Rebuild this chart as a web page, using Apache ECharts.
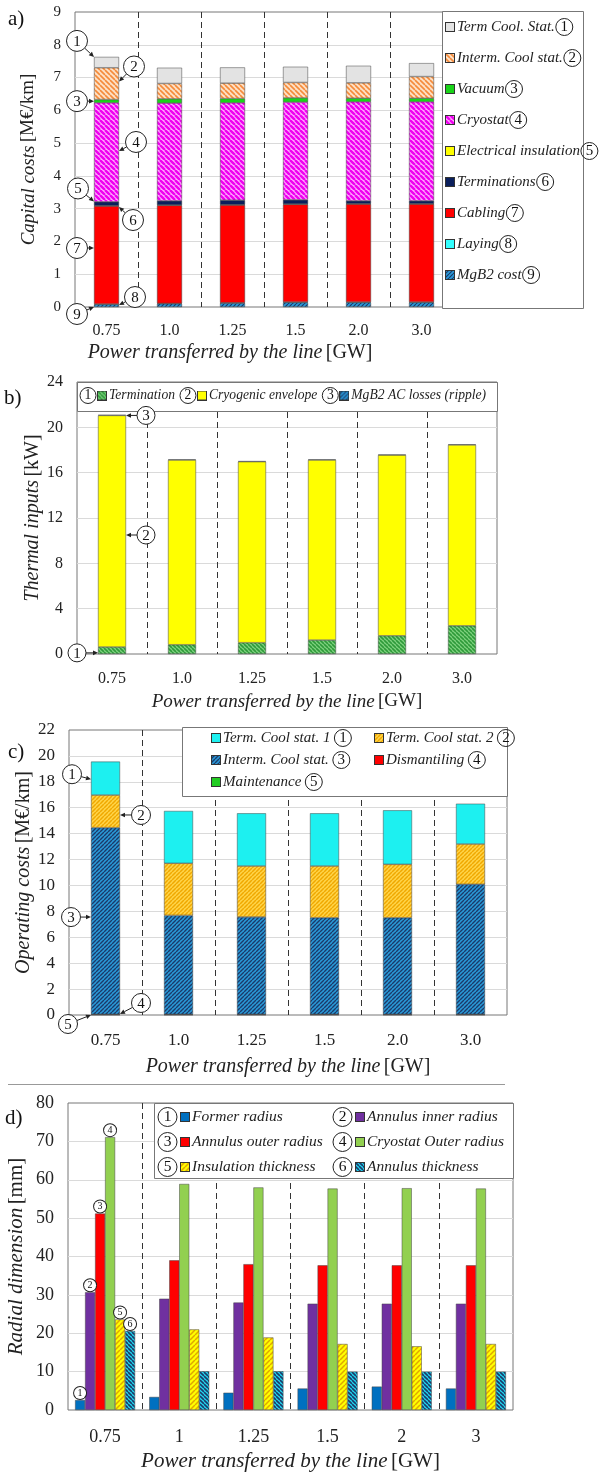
<!DOCTYPE html>
<html><head><meta charset="utf-8">
<script src="https://cdn.jsdelivr.net/npm/echarts@6/dist/echarts.min.js"></script>
<style>html,body{margin:0;padding:0;background:#fff}#c{width:603px;height:1476px}</style>
</head><body><div id="c"></div>
<script>
// ---------- DATA ----------
const catsABC = ['0.75','1.0','1.25','1.5','2.0','3.0'];
const catsD = ['0.75','1','1.25','1.5','2','3'];

// a) Capital costs [M€/km]
const aMgB2 = [0.08,0.10,0.12,0.14,0.14,0.14];
const aLaying = [0.01,0.01,0.01,0.01,0.01,0.01];
const aCabling = [2.99,2.99,2.98,2.98,2.99,2.99];
const aInsulation = [0.01,0.01,0.01,0.01,0.01,0.01];
const aTerminations = [0.12,0.13,0.14,0.13,0.09,0.09];
const aCryostat = [3.02,2.98,2.97,2.98,3.02,3.02];
const aVacuum = [0.10,0.13,0.13,0.13,0.11,0.11];
const aIntermCool = [0.97,0.47,0.47,0.47,0.47,0.66];
const aTermCool = [0.33,0.48,0.48,0.48,0.52,0.41];

// b) Thermal inputs [kW]
const bTermination = [0.62,0.82,1.00,1.23,1.61,2.49];
const bCryogenic = [20.43,16.30,15.97,15.89,15.94,15.96];
const bACLosses = [0.05,0.05,0.05,0.05,0.05,0.05];

// c) Operating costs [M€/km]
const cMaintenance = [0.02,0.02,0.02,0.02,0.02,0.02];
const cDismantling = [0.03,0.03,0.03,0.03,0.03,0.03];
const cIntermCool = [14.41,7.64,7.52,7.46,7.46,10.04];
const cTermCool2 = [2.52,4.02,3.93,3.99,4.12,3.11];
const cTermCool1 = [2.58,4.04,4.07,4.07,4.17,3.11];

// d) Radial dimension [mm]
const dFormer = [2.6,3.4,4.5,5.6,6.1,5.6];
const dInner = [30.7,29.0,28.0,27.7,27.7,27.7];
const dOuter = [51.2,39.0,38.0,37.7,37.7,37.7];
const dCryostat = [71.1,58.9,58.0,57.7,57.8,57.7];
const dInsulation = [23.6,21.0,18.9,17.2,16.6,17.2];
const dThickness = [20.6,10.1,10.1,10.0,10.0,10.0];

// annotation callouts: [category index, value pointed at, bar edge (-1 left / +1 right), circle dx, circle dy, number]
const annotA = [[0,7.63,-1,-17,-16,1],[0,6.88,1,15,-15,2],[0,6.28,-1,-17,0,3],[0,4.76,1,17,-9,4],
  [0,3.22,-1,-16,-13,5],[0,3.05,1,14,13,6],[0,1.8,-1,-17,0,7],[0,0.06,1,16,-8,8],[0,0,-1,-17,7,9]];
const annotB = [[0,21.05,1,20,0,3],[0,10.5,1,20,0,2],[0,0.1,-1,-21,0,1]];
const annotC = [[0,18.2,-1,-19,-5,1],[0,15.44,1,21,0,2],[0,7.56,-1,-20,0,3],[0,0.08,1,21,-11,4],[0,0,-1,-23,9,5]];

// ---------- STYLE HELPERS ----------
const FF = '"Liberation Serif", "Times New Roman", serif';
function hatch(bg, fg, dir, p, lw){
  const c=document.createElement('canvas'); c.width=c.height=p;
  const x=c.getContext('2d'); x.fillStyle=bg; x.fillRect(0,0,p,p);
  x.strokeStyle=fg; x.lineWidth=lw; x.beginPath();
  for(const k of [-p,0,p]){
    if(dir==='\\'){x.moveTo(k,0);x.lineTo(k+p,p);}else{x.moveTo(k,p);x.lineTo(k+p,0);}
  }
  x.stroke(); return c;
}
function pat(bg,fg,dir,p,lw){return {image:hatch(bg,fg,dir,p,lw),repeat:'repeat'};}
function swatch(fill){ // legend square
  const s=10,c=document.createElement('canvas'); c.width=c.height=s;
  const x=c.getContext('2d');
  if(typeof fill==='string'){x.fillStyle=fill;} else {x.fillStyle=x.createPattern(fill.image,'repeat');}
  x.fillRect(1,1,s-2,s-2); x.strokeStyle='#333'; x.lineWidth=1; x.strokeRect(0.5,0.5,s-1,s-1);
  return c;
}

const col = {
  aTermCool:'#e3e3e3', aInterm:pat('#fde0c4','#f58a3a','\\',5,1.6), aVacuum:'#19d419',
  aCryostat:pat('#ffa8ff','#f000f0','\\',5,2.4), aIns:'#ffff00', aTerms:'#0a1f5c',
  aCabling:'#ff0000', aLaying:'#33ffff', aMgB2:pat('#2a9ad8','#1b3a6a','/',4,1.2),
  bTerm:pat('#7fd27f','#2e9a3a','\\',4,1.6), bCryo:'#ffff00', bAC:pat('#2a9ad8','#1b3a6a','/',4,1.2),
  cT1:'#1df0f0', cT2:pat('#ffd54a','#f0a800','/',4,1.5), cInt:pat('#2a9ad8','#1b3a6a','/',4,1.4),
  cDis:'#ff0000', cMain:'#22cc22',
  dFormer:'#0070c0', dInner:'#7030a0', dOuter:'#ff0000', dCryo:'#92d050',
  dIns:pat('#ffff00','#e0a800','/',5,1.5), dThick:pat('#22d8f0','#1b3a6a','\\',4,1.6)
};

// ---------- BUILD ----------
const grids = [
  {left:75, top:12, width:378, height:295},
  {left:77, top:382, width:420, height:272},
  {left:69, top:730, width:438, height:285},
  {left:68, top:1103, width:445, height:307}
].map(g=>Object.assign({show:true, borderColor:'#777', borderWidth:1, backgroundColor:'rgba(0,0,0,0)', containLabel:false, outerBoundsMode:'none'}, g));

function xAx(i, cats, fs, margin, nameGap, nfs, shift){
  return {type:'category', gridIndex:i, data:cats,
    axisTick:{show:false}, axisLine:{show:false},
    axisLabel:{fontFamily:FF, fontSize:fs, color:'#222', margin:margin, interval:0},
    splitLine:{show:true, interval:0, showMinLine:false, showMaxLine:false, lineStyle:{type:[6,4], color:'#333', width:1}},
    name:'{i|Power transferred by the line} {n|[GW]}', nameLocation:'middle', nameGap:nameGap, nameMoveOverlap:false,
    nameTextStyle:{padding:[0, shift>0?shift*2:0, 0, shift<0?-shift*2:0],
      rich:{i:{fontFamily:FF, fontSize:nfs, fontStyle:'italic', color:'#222'}, n:{fontFamily:FF, fontSize:nfs, color:'#222'}}}};
}
function yAx(i, max, interval, fs, name, unit, nameGap, nfs){
  return {type:'value', gridIndex:i, min:0, max:max, interval:interval,
    axisTick:{show:false}, axisLine:{show:false},
    axisLabel:{fontFamily:FF, fontSize:fs, color:'#222', margin:14},
    splitLine:{show:true, showMinLine:false, showMaxLine:false, lineStyle:{color:'#dadada', width:1}},
    name:'{i|'+name+'} {n|'+unit+'}', nameLocation:'middle', nameRotate:90, nameGap:nameGap, nameMoveOverlap:false,
    nameTextStyle:{rich:{i:{fontFamily:FF, fontSize:nfs, fontStyle:'italic', color:'#222'}, n:{fontFamily:FF, fontSize:nfs, color:'#222'}}}};
}

function barS(name, data, gi, stack, color, bw){
  return {type:'bar', name:name, data:data, xAxisIndex:gi, yAxisIndex:gi, stack:stack, barWidth:bw,
    itemStyle:{color:color, borderColor:'#444', borderWidth:0.5}, emphasis:{disabled:true}};
}

function makeAnnot(barW, r, fs){
  return function(params, api){
    const p = api.coord([api.value(0), api.value(1)]);
    const tip = [p[0] + api.value(2)*barW/2, p[1]];
    const cx = tip[0]+api.value(3), cy = tip[1]+api.value(4);
    const dx = tip[0]-cx, dy = tip[1]-cy, L=Math.hypot(dx,dy);
    const ux=dx/L, uy=dy/L, ah=5, aw=2.3;
    const s=[cx+ux*r, cy+uy*r], base=[tip[0]-ux*ah, tip[1]-uy*ah];
    return {type:'group', children:[
      {type:'line', shape:{x1:s[0],y1:s[1],x2:base[0],y2:base[1]}, style:{stroke:'#222', lineWidth:1}},
      {type:'polygon', shape:{points:[tip,[base[0]-uy*aw, base[1]+ux*aw],[base[0]+uy*aw, base[1]-ux*aw]]}, style:{fill:'#222'}},
      {type:'circle', shape:{cx:cx, cy:cy, r:r}, style:{fill:'#fff', stroke:'#222', lineWidth:1}},
      {type:'text', style:{x:cx, y:cy+1, text:String(api.value(5)), fill:'#111', font:fs+'px '+FF, align:'center', verticalAlign:'middle'}}
    ]};
  };
}
function annotSeries(data, gi, barW, r, fs){
  return {type:'custom', xAxisIndex:gi, yAxisIndex:gi, data:data, renderItem:makeAnnot(barW,r,fs), z:10, silent:true, clip:false};
}

// legends
function makeLegend(opts){
  const rich = {
    t:{fontFamily:FF, fontSize:opts.fs, fontStyle:'italic', color:'#222', lineHeight:20, verticalAlign:'middle', padding:opts.tpad},
    c:{fontFamily:FF, fontSize:opts.fs, color:'#111', width:opts.cw, height:opts.cw, lineHeight:opts.cw, borderRadius:opts.cw/2, borderColor:'#222', borderWidth:1, align:'center', verticalAlign:'middle'},
    g:{width:opts.gw}
  };
  const map = {};
  opts.items.forEach((it,k)=>{
    const key='s'+k;
    rich[key] = {width:10, height:10, backgroundColor:{image:swatch(it[1])}, verticalAlign:'middle'};
    map[it[0]] = opts.circleFirst ? ('{c|'+it[3]+'}{g|}{'+key+'|}{t|'+it[2]+'}') : ('{'+key+'|}{t|'+it[2]+'}{c|'+it[3]+'}');
  });
  return {orient:opts.orient, left:opts.left, top:opts.top, itemGap:opts.gap, padding:0,
    icon:'rect', itemWidth:0, itemHeight:0, selectedMode:false, z:5,
    data:opts.items.map(it=>it[0]), formatter:n=>map[n],
    textStyle:{fontFamily:FF, fontSize:opts.fs, color:'#222', rich:rich}};
}

const series = [
  barS('a9', aMgB2, 0, 'a', col.aMgB2, 25),
  barS('a8', aLaying, 0, 'a', col.aLaying, 25),
  barS('a7', aCabling, 0, 'a', col.aCabling, 25),
  barS('a5', aInsulation, 0, 'a', col.aIns, 25),
  barS('a6', aTerminations, 0, 'a', col.aTerms, 25),
  barS('a4', aCryostat, 0, 'a', col.aCryostat, 25),
  barS('a3', aVacuum, 0, 'a', col.aVacuum, 25),
  barS('a2', aIntermCool, 0, 'a', col.aInterm, 25),
  barS('a1', aTermCool, 0, 'a', col.aTermCool, 25),
  annotSeries(annotA, 0, 25, 10.5, 15),

  barS('b1', bTermination, 1, 'b', col.bTerm, 28),
  barS('b2', bCryogenic, 1, 'b', col.bCryo, 28),
  barS('b3', bACLosses, 1, 'b', col.bAC, 28),
  annotSeries(annotB, 1, 28, 9, 15),

  barS('c5', cMaintenance, 2, 'c', col.cMain, 29),
  barS('c4', cDismantling, 2, 'c', col.cDis, 29),
  barS('c3', cIntermCool, 2, 'c', col.cInt, 29),
  barS('c2', cTermCool2, 2, 'c', col.cT2, 29),
  barS('c1', cTermCool1, 2, 'c', col.cT1, 29),
  annotSeries(annotC, 2, 29, 9.5, 15)
];
const dList = [['d1',dFormer,col.dFormer],['d2',dInner,col.dInner],['d3',dOuter,col.dOuter],
  ['d4',dCryostat,col.dCryo],['d5',dInsulation,col.dIns],['d6',dThickness,col.dThick]];
dList.forEach((d,k)=>{
  const s = barS(d[0], d[1], 3, null, d[2], 10);
  s.barGap = '0%';
  s.label = {show:true, position:'top', distance:1,
    formatter:(p)=> p.dataIndex===0 ? '{c|'+(k+1)+'}' : '',
    rich:{c:{fontFamily:FF, fontSize:10, color:'#111', width:12, height:12, lineHeight:12, borderRadius:6, borderColor:'#222', borderWidth:1, backgroundColor:'#fff', align:'center'}}};
  series.push(s);
});

const legends = [
  makeLegend({items:[['a1',col.aTermCool,'Term Cool. Stat.',1],['a2',col.aInterm,'Interm. Cool stat.',2],['a3',col.aVacuum,'Vacuum',3],
    ['a4',col.aCryostat,'Cryostat',4],['a5',col.aIns,'Electrical insulation',5],['a6',col.aTerms,'Terminations',6],
    ['a7',col.aCabling,'Cabling',7],['a8',col.aLaying,'Laying',8],['a9',col.aMgB2,'MgB2 cost',9]],
    circleFirst:false, fs:15, cw:17, gw:3, tpad:[0,1,0,2], left:439, top:18, orient:'vertical', gap:13}),
  makeLegend({items:[['b1',col.bTerm,'Termination',1],['b2',col.bCryo,'Cryogenic envelope',2],['b3',col.bAC,'MgB2 AC losses (ripple)',3]],
    circleFirst:true, fs:13.6, cw:16, gw:1, tpad:[0,0,0,2], left:74, top:387, orient:'horizontal', gap:-1}),
  makeLegend({items:[['c1',col.cT1,'Term. Cool stat. 1',1],['c3',col.cInt,'Interm. Cool stat.',3],['c5',col.cMain,'Maintenance',5]],
    circleFirst:false, fs:15, cw:17, gw:3, tpad:[0,4,0,2], left:205, top:729, orient:'vertical', gap:4}),
  makeLegend({items:[['c2',col.cT2,'Term. Cool stat. 2',2],['c4',col.cDis,'Dismantiling',4]],
    circleFirst:false, fs:15, cw:17, gw:3, tpad:[0,4,0,2], left:368, top:729, orient:'vertical', gap:4}),
  makeLegend({items:[['d1',col.dFormer,'Former radius',1],['d3',col.dOuter,'Annulus outer radius',3],['d5',col.dIns,'Insulation thickness',5]],
    circleFirst:true, fs:15.5, cw:19, gw:3, tpad:[0,1,0,2], left:152, top:1107, orient:'vertical', gap:5}),
  makeLegend({items:[['d2',col.dInner,'Annulus inner radius',2],['d4',col.dCryo,'Cryostat Outer radius',4],['d6',col.dThick,'Annulus thickness',6]],
    circleFirst:true, fs:15.5, cw:19, gw:3, tpad:[0,1,0,2], left:327, top:1107, orient:'vertical', gap:5})
];

const frame = (x,y,w,h)=>({type:'rect', shape:{x:x,y:y,width:w,height:h}, style:{fill:'#fff', stroke:'#777', lineWidth:1}, z:3});
const ptxt = (t,x,y)=>({type:'text', x:x, y:y, style:{text:t, font:'21px '+FF, fill:'#111'}, z:6});

const option = {
  animation:false,
  grid: grids,
  xAxis: [xAx(0,catsABC,16,16,36,20,34), xAx(1,catsABC,16,17,38,19,0), xAx(2,catsABC,17,17,42,20,0), xAx(3,catsD,18,18,41,21,0)],
  yAxis: [yAx(0,9,1,15,'Capital costs','[M€/km]',37,19), yAx(1,24,4,16,'Thermal inputs','[kW]',34,20),
          yAx(2,22,2,17,'Operating costs','[M€/km]',35,20), yAx(3,80,10,18,'Radial dimension','[mm]',41,21)],
  legend: legends,
  series: series,
  graphic: [
    frame(442.5,11.5,141,297), frame(77.5,382.5,420,29), frame(182.5,727.5,325,69), frame(154.5,1103.5,359,75),
    {type:'line', shape:{x1:8,y1:1084.5,x2:505,y2:1084.5}, style:{stroke:'#999', lineWidth:1}, z:3},
    ptxt('a)',8,9), ptxt('b)',4,388), ptxt('c)',8,742), ptxt('d)',5,1108)
  ]
};
const chart = echarts.init(document.getElementById('c'), null, {renderer:'canvas'});
chart.setOption(option);
</script></body></html>
